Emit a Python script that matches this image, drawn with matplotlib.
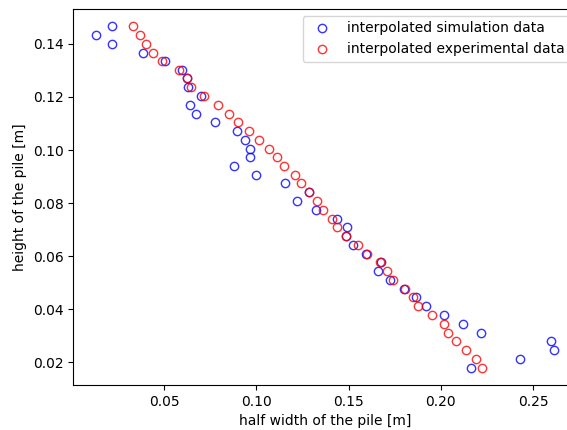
import matplotlib
matplotlib.use("Agg")
import matplotlib.pyplot as plt

# heights of the pile [m], shared by both data sets
height = [0.1467, 0.1434, 0.1400, 0.1367, 0.1335, 0.1303, 0.1270, 0.1236,
          0.1203, 0.1171, 0.1136, 0.1104, 0.1070, 0.1037, 0.1004, 0.0972,
          0.0939, 0.0905, 0.0874, 0.0841, 0.0807, 0.0774, 0.0741, 0.0709,
          0.0676, 0.0642, 0.0608, 0.0577, 0.0544, 0.0510, 0.0477, 0.0446,
          0.0411, 0.0377, 0.0345, 0.0312, 0.0279, 0.0245, 0.0213, 0.0179]

# half width of the pile [m]
sim_width = [0.0217, 0.0132, 0.0220, 0.0385, 0.0505, 0.0599, 0.0625, 0.0632,
             0.0700, 0.0641, 0.0675, 0.0776, 0.0894, 0.0939, 0.0964, 0.0964,
             0.0881, 0.0998, 0.1157, 0.1285, 0.1222, 0.1326, 0.1435, 0.1493,
             0.1486, 0.1522, 0.1594, 0.1673, 0.1659, 0.1724, 0.1800, 0.1865,
             0.1919, 0.2016, 0.2118, 0.2217, 0.2599, 0.2616, 0.2428, 0.2162]

exp_width = [0.0334, 0.0370, 0.0403, 0.0440, 0.0489, 0.0581, 0.0625, 0.0646,
             0.0718, 0.0794, 0.0854, 0.0899, 0.0962, 0.1014, 0.1070, 0.1112,
             0.1148, 0.1208, 0.1242, 0.1284, 0.1330, 0.1363, 0.1408, 0.1438,
             0.1484, 0.1552, 0.1601, 0.1670, 0.1709, 0.1740, 0.1805, 0.1850,
             0.1877, 0.1950, 0.2016, 0.2040, 0.2081, 0.2134, 0.2188, 0.2224]

fig = plt.figure(figsize=(5.67, 4.3), dpi=100)
# the original was cropped on the right, so the axes run past the figure edge
ax = fig.add_axes([0.1293, 0.1047, 0.889, 0.8744])

ax.plot(sim_width, height, "o", color="b", mfc="none", alpha=0.8,
        label="interpolated simulation data")
ax.plot(exp_width, height, "o", color="r", mfc="none", alpha=0.8,
        label="interpolated experimental data")

ax.set_xlabel("half width of the pile [m]")
ax.set_ylabel("height of the pile [m]")
ax.legend(loc="upper right")

fig.savefig("out.png", dpi=100)
